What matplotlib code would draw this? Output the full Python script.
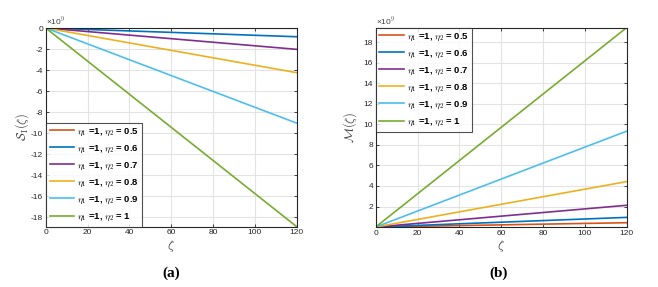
import matplotlib
matplotlib.use("Agg")
import matplotlib.pyplot as plt

# zeta range and end values (in units of 1e9)
zeta = [0, 120]
eta2_labels = ["0.5", "0.6", "0.7", "0.8", "0.9", "1"]
S_end = [-0.02, -0.83, -2.03, -4.25, -9.05, -18.9]
M_end = [0.42, 0.94, 2.12, 4.43, 9.35, 19.45]

colors = ["#D95319", "#0072BD", "#7E2F8E", "#EDB120", "#4DBEEE", "#77AC30"]

plt.rcParams['font.family'] = ['Liberation Sans', 'DejaVu Sans']
plt.rcParams['mathtext.fontset'] = 'cm'
plt.rcParams['axes.unicode_minus'] = False

fig = plt.figure(figsize=(6.58, 2.87), dpi=100)
ax_a = fig.add_axes([0.0695, 0.2101, 0.3815, 0.6923])
ax_b = fig.add_axes([0.571, 0.209, 0.3815, 0.695])


def style(ax):
    ax.grid(True, color='#e3e3e3', linewidth=0.8)
    ax.set_axisbelow(True)
    ax.tick_params(direction='in', top=True, right=True, labelsize=6,
                   length=2.5, width=0.6, colors='#262626', pad=2)
    for s in ax.spines.values():
        s.set_linewidth(0.8)
        s.set_color('#262626')
    ax.set_xlim(0, 120)
    ax.set_xticks(range(0, 121, 20))
    ax.set_xlabel(r'$\zeta$', fontsize=9, color='#404040', labelpad=1)
    ax.text(0.0, 1.005, '\u00d710$^{9}$', transform=ax.transAxes, fontsize=6,
            color='#404040', ha='left', va='bottom')


for i in range(len(eta2_labels)):
    lab = r'$\eta_1$ =1, $\eta_2$ = ' + eta2_labels[i]
    ax_a.plot(zeta, [0, S_end[i]], color=colors[i], linewidth=1.2, label=lab)
    ax_b.plot(zeta, [0, M_end[i]], color=colors[i], linewidth=1.2, label=lab)

style(ax_a)
ax_a.set_ylim(min(S_end), 0)
ax_a.set_yticks(range(-18, 1, 2))
ax_a.set_ylabel(r'$\mathcal{S}_{\mathrm{I}}(\zeta)$', fontsize=9, color='#404040', labelpad=0)

style(ax_b)
ax_b.set_ylim(0, max(M_end))
ax_b.set_yticks(range(2, 19, 2))
ax_b.set_ylabel(r'$\mathcal{M}(\zeta)$', fontsize=9, color='#404040', labelpad=3)

leg_kw = dict(fontsize=6.8, frameon=True, fancybox=False, edgecolor='#262626',
              handlelength=2.6, handletextpad=0.3, borderpad=0.4,
              labelspacing=0.62, borderaxespad=0.0)
la = ax_a.legend(loc='lower left', **leg_kw)
lb = ax_b.legend(loc='upper left', **leg_kw)
for lg in (la, lb):
    lg.get_frame().set_linewidth(0.8)
    for t in lg.get_texts():
        t.set_fontweight('bold')

fig.text(0.26, 0.035, '(a)', fontsize=11, fontweight='bold',
         family='Liberation Serif', ha='center')
fig.text(0.757, 0.035, '(b)', fontsize=11, fontweight='bold',
         family='Liberation Serif', ha='center')

fig.savefig('out.png', dpi=100)
